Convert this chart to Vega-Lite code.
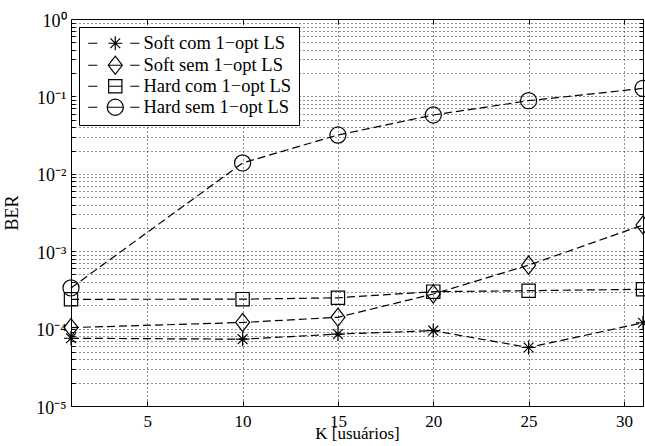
{
  "$schema": "https://vega.github.io/schema/vega-lite/v6.json",
  "width": 572,
  "height": 387,
  "autosize": {"type": "none"},
  "padding": {"left": 71, "top": 19, "right": 2, "bottom": 40},
  "background": "white",
  "config": {
    "view": {"stroke": "black", "strokeWidth": 1},
    "font": "Liberation Serif",
    "axis": {
      "domainColor": "black",
      "tickColor": "black",
      "labelColor": "black",
      "titleColor": "black",
      "labelFont": "Liberation Serif",
      "titleFont": "Liberation Serif",
      "labelFontSize": 18,
      "titleFontSize": 18,
      "titleFontWeight": "normal",
      "gridColor": "#222222",
      "gridDash": [1, 3],
      "gridWidth": 1,
      "labelOverlap": false,
      "labelBound": false
    }
  },
  "data": {
    "values": [
      {"series": "Soft com 1−opt LS", "K": 1, "BER": 0.000075},
      {"series": "Soft com 1−opt LS", "K": 10, "BER": 0.000073},
      {"series": "Soft com 1−opt LS", "K": 15, "BER": 0.000085},
      {"series": "Soft com 1−opt LS", "K": 20, "BER": 0.000094},
      {"series": "Soft com 1−opt LS", "K": 25, "BER": 0.000057},
      {"series": "Soft com 1−opt LS", "K": 31, "BER": 0.000119},
      {"series": "Soft sem 1−opt LS", "K": 1, "BER": 0.000103},
      {"series": "Soft sem 1−opt LS", "K": 10, "BER": 0.00012},
      {"series": "Soft sem 1−opt LS", "K": 15, "BER": 0.00014},
      {"series": "Soft sem 1−opt LS", "K": 20, "BER": 0.00028},
      {"series": "Soft sem 1−opt LS", "K": 25, "BER": 0.00066},
      {"series": "Soft sem 1−opt LS", "K": 31, "BER": 0.00218},
      {"series": "Hard com 1−opt LS", "K": 1, "BER": 0.000239},
      {"series": "Hard com 1−opt LS", "K": 10, "BER": 0.00024},
      {"series": "Hard com 1−opt LS", "K": 15, "BER": 0.00025},
      {"series": "Hard com 1−opt LS", "K": 20, "BER": 0.0003},
      {"series": "Hard com 1−opt LS", "K": 25, "BER": 0.000309},
      {"series": "Hard com 1−opt LS", "K": 31, "BER": 0.000322},
      {"series": "Hard sem 1−opt LS", "K": 1, "BER": 0.000335},
      {"series": "Hard sem 1−opt LS", "K": 10, "BER": 0.0138},
      {"series": "Hard sem 1−opt LS", "K": 15, "BER": 0.0317},
      {"series": "Hard sem 1−opt LS", "K": 20, "BER": 0.0575},
      {"series": "Hard sem 1−opt LS", "K": 25, "BER": 0.088},
      {"series": "Hard sem 1−opt LS", "K": 31, "BER": 0.127}
    ]
  },
  "resolve": {
    "axis": {"x": "independent", "y": "independent"},
    "scale": {"shape": "independent"},
    "legend": {"shape": "independent"}
  },
  "layer": [
    {
      "mark": {"type": "line", "color": "black", "strokeWidth": 1.2, "strokeDash": [8, 4]},
      "encoding": {
        "x": {
          "field": "K", "type": "quantitative",
          "scale": {"domain": [1, 31], "nice": false, "zero": false},
          "axis": {
            "orient": "bottom",
            "values": [5, 10, 15, 20, 25, 30],
            "title": "K [usuários]",
            "titleFontSize": 17,
            "titlePadding": -4,
            "labelFontSize": 17,
            "tickSize": -5,
            "labelPadding": 12,
            "domain": false,
            "grid": true
          }
        },
        "y": {
          "field": "BER", "type": "quantitative",
          "scale": {"type": "log", "domain": [0.00001, 1], "nice": false},
          "axis": {
            "orient": "left",
            "values": [0.00001, 0.00002, 0.00003, 0.00004, 0.00005, 0.00006, 0.00007, 0.00008, 0.00009,
                       0.0001, 0.0002, 0.0003, 0.0004, 0.0005, 0.0006, 0.0007, 0.0008, 0.0009,
                       0.001, 0.002, 0.003, 0.004, 0.005, 0.006, 0.007, 0.008, 0.009,
                       0.01, 0.02, 0.03, 0.04, 0.05, 0.06, 0.07, 0.08, 0.09,
                       0.1, 0.2, 0.3, 0.4, 0.5, 0.6, 0.7, 0.8, 0.9, 1],
            "labelExpr": "abs(log(datum.value)/LN10 - round(log(datum.value)/LN10)) < 0.001 ? '10' + (round(log(datum.value)/LN10) == 0 ? '⁰' : '⁻' + ['','¹','²','³','⁴','⁵'][-round(log(datum.value)/LN10)]) : ''",
            "labelOffset": 2,
            "title": "BER",
            "titlePadding": 14,
            "tickSize": -4,
            "labelPadding": 9,
            "domain": false,
            "grid": true
          }
        },
        "detail": {"field": "series"}
      }
    },
    {
      "mark": {"type": "point", "filled": false, "color": "black", "size": 196, "strokeWidth": 1.2, "opacity": 1},
      "encoding": {
        "x": {
          "field": "K", "type": "quantitative",
          "scale": {"domain": [1, 31], "nice": false, "zero": false},
          "axis": {"orient": "top", "values": [5, 10, 15, 20, 25, 30], "labels": false, "title": null, "tickSize": -5, "domain": false, "grid": false}
        },
        "y": {
          "field": "BER", "type": "quantitative",
          "scale": {"type": "log", "domain": [0.00001, 1], "nice": false},
          "axis": {
            "orient": "right",
            "values": [0.00001, 0.00002, 0.00003, 0.00004, 0.00005, 0.00006, 0.00007, 0.00008, 0.00009,
                       0.0001, 0.0002, 0.0003, 0.0004, 0.0005, 0.0006, 0.0007, 0.0008, 0.0009,
                       0.001, 0.002, 0.003, 0.004, 0.005, 0.006, 0.007, 0.008, 0.009,
                       0.01, 0.02, 0.03, 0.04, 0.05, 0.06, 0.07, 0.08, 0.09,
                       0.1, 0.2, 0.3, 0.4, 0.5, 0.6, 0.7, 0.8, 0.9, 1],
            "labels": false, "title": null, "tickSize": -4, "domain": false, "grid": false
          }
        },
        "shape": {
          "field": "series", "type": "nominal",
          "scale": {
            "domain": ["Soft com 1−opt LS", "Soft sem 1−opt LS", "Hard com 1−opt LS", "Hard sem 1−opt LS"],
            "range": [
              "M-1,0H1M0,-1V1M-0.7,-0.7L0.7,0.7M-0.7,0.7L0.7,-0.7",
              "M0,-1.3L1,0L0,1.3L-1,0Z",
              "M-0.95,-0.95H0.95V0.95H-0.95Z",
              "M1.15,0A1.15,1.15,0,1,1,-1.15,0A1.15,1.15,0,1,1,1.15,0Z"
            ]
          },
          "legend": null
        }
      }
    },
    {
      "mark": {"type": "point", "filled": false, "color": "black", "size": 196, "strokeWidth": 1.2, "opacity": 0},
      "encoding": {
        "x": {
          "field": "K", "type": "quantitative",
          "scale": {"domain": [1, 31], "nice": false, "zero": false},
          "axis": null
        },
        "y": {
          "field": "BER", "type": "quantitative",
          "scale": {"type": "log", "domain": [0.00001, 1], "nice": false},
          "axis": null
        },
        "shape": {
          "field": "series", "type": "nominal",
          "scale": {
            "domain": ["Soft com 1−opt LS", "Soft sem 1−opt LS", "Hard com 1−opt LS", "Hard sem 1−opt LS"],
            "range": [
              "M-1,0H0.3M1.86,0H3.86M2.86,-1V1M2.16,-0.7L3.56,0.7M2.16,0.7L3.56,-0.7M5,0H6.3",
              "M-1,0H0.3M2.86,-1.3L3.86,0L2.86,1.3L1.86,0ZM1.86,0H3.86M5,0H6.3",
              "M-1,0H0.3M1.91,-0.95H3.81V0.95H1.91ZM1.91,0H3.81M5,0H6.3",
              "M-1,0H0.3M4.01,0A1.15,1.15,0,1,1,1.71,0A1.15,1.15,0,1,1,4.01,0ZM1.71,0H4.01M5,0H6.3"
            ]
          },
          "legend": {
            "title": null,
            "orient": "top-left",
            "offset": 8,
            "padding": 7,
            "strokeColor": "black",
            "fillColor": "white",
            "cornerRadius": 0,
            "symbolSize": 196,
            "symbolOpacity": 1,
            "symbolStrokeColor": "black",
            "symbolFillColor": "transparent",
            "symbolStrokeWidth": 1.2,
            "labelFont": "Liberation Serif",
            "labelFontSize": 18.5,
            "labelColor": "black",
            "labelOffset": 39,
            "rowPadding": 0,
            "labelLimit": 400
          }
        }
      }
    }
  ]
}
